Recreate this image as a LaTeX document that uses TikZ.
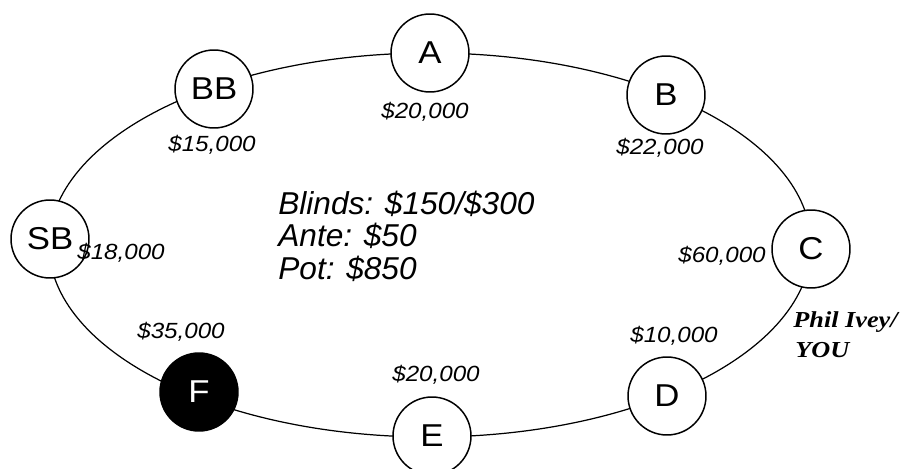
\documentclass[tikz,border=0pt]{standalone}
\usepackage{fontspec}
\setmainfont{Liberation Sans}[FakeStretch=1.1]
\newfontfamily\infofont{Liberation Sans}
\newfontfamily\nomefont{Liberation Serif}[FakeStretch=1.15]

\begin{document}
\begin{tikzpicture}[x=0.02cm, y=-0.02cm,
    lugar/.style={draw, circle, fill=white, line width=0.85pt, minimum size=1.56cm, inner sep=0pt, font=\fontsize{18}{21}\selectfont},
    fichas/.style={inner sep=0pt, font=\fontsize{12.5}{15}\selectfont\itshape},
    info/.style={anchor=base west, inner sep=0pt, font=\fontsize{18}{21}\infofont\itshape},
    nome/.style={anchor=base west, inner sep=0pt, font=\fontsize{13}{15}\nomefont\bfseries\itshape}]
    \useasboundingbox (0,0) rectangle (903,469);
    % mesa
    \draw[line width=0.7pt] (430,245) ellipse [x radius=381, y radius=192];
    % jogadores
    \node[lugar] (A) at (430,53) {A};
    \node[lugar] (B) at (666,95) {B};
    \node[lugar] (C) at (811,249) {C};
    \node[lugar] (D) at (667,396) {D};
    \node[lugar] (E) at (432,436) {E};
    \node[lugar, fill=black, text=white] (F) at (199,392) {F};
    \node[lugar] (SB) at (50,239) {SB};
    \node[lugar] (BB) at (214,89) {BB};
    % fichas de cada jogador
    \node[fichas] (stackA) at (425,112) {\$20,000};
    \node[fichas] (stackB) at (660,148) {\$22,000};
    \node[fichas] (stackC) at (722,256) {\$60,000};
    \node[fichas] (stackD) at (674,336) {\$10,000};
    \node[fichas] (stackE) at (436,375) {\$20,000};
    \node[fichas] (stackF) at (181,332) {\$35,000};
    \node[fichas] (stackSB) at (121,253) {\$18,000};
    \node[fichas] (stackBB) at (212,145) {\$15,000};
    % blinds, ante e pote
    \node[info] (blinds) at (278,215) {Blinds: \$150/\$300};
    \node[info] (ante) at (278,247) {Ante: \$50};
    \node[info] (pot) at (278,280) {Pot: \$850};
    % rotulo do jogador C
    \node[nome] (phil) at (793,328) {Phil Ivey/};
    \node[nome] (you) at (795,358) {YOU};
\end{tikzpicture}
\end{document}
